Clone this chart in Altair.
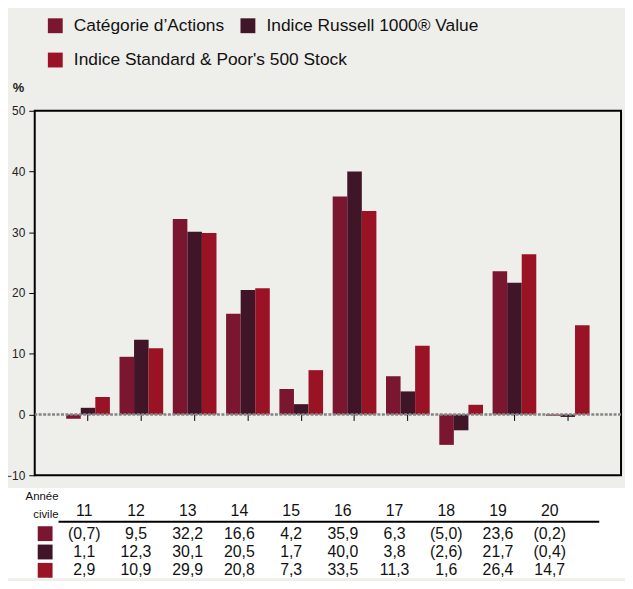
import altair as alt
import pandas as pd

years = ["11", "12", "13", "14", "15", "16", "17", "18", "19", "20"]
series = ["Catégorie d’Actions", "Indice Russell 1000® Value", "Indice Standard & Poor's 500 Stock"]
cat_vals = [-0.7, 9.5, 32.2, 16.6, 4.2, 35.9, 6.3, -5.0, 23.6, -0.2]
rus_vals = [1.1, 12.3, 30.1, 20.5, 1.7, 40.0, 3.8, -2.6, 21.7, -0.4]
sp_vals = [2.9, 10.9, 29.9, 20.8, 7.3, 33.5, 11.3, 1.6, 26.4, 14.7]
colors = ["#7b1631", "#3f1527", "#9a1325"]
y_ticks = [-10, 0, 10, 20, 30, 40, 50]


def fmt(v):
    s = f"{abs(v):.1f}".replace(".", ",")
    return f"({s})" if v < 0 else s


rows = []
for name, vals in zip(series, [cat_vals, rus_vals, sp_vals]):
    for yr, v in zip(years, vals):
        rows.append({"year": yr, "series": name, "value": v, "label": fmt(v)})
df = pd.DataFrame(rows)
one = alt.Data(values=[{}])

FONT = "Liberation Sans"

color_scale = alt.Scale(domain=series, range=colors)

legend_common = dict(orient="none", direction="horizontal", title=None,
                     symbolType="square", symbolSize=225, symbolStrokeWidth=0,
                     labelFont=FONT, labelFontSize=17.5, labelColor="#111",
                     labelOffset=10, columnPadding=14.5, padding=0,
                     labelLimit=0)

bars = alt.Chart(df).mark_bar().encode(
    x=alt.X(
        "year:O", sort=years,
        scale=alt.Scale(paddingInner=0, paddingOuter=0.5),
        axis=alt.Axis(orient="bottom", offset=-61.33, labels=False, domain=False,
                      ticks=True, tickSize=6, tickColor="black", tickWidth=1,
                      title=None, grid=False),
    ),
    xOffset=alt.XOffset("series:N", sort=series,
                        scale=alt.Scale(paddingInner=0, paddingOuter=0.33)),
    y=alt.Y(
        "value:Q",
        scale=alt.Scale(domain=[-10, 50], nice=False, zero=False),
        axis=alt.Axis(values=y_ticks, grid=False, domain=False, tickSize=6,
                      tickColor="black", tickWidth=1, labelFont=FONT,
                      labelFontSize=12, labelColor="#222", labelPadding=4,
                      title="%", titleAngle=0, titleX=-17, titleY=-23,
                      titleAlign="center", titleBaseline="middle",
                      titleFont=FONT, titleFontSize=13, titleFontWeight="bold",
                      titleColor="#222"),
    ),
    color=alt.Color(
        "series:N", sort=series, scale=color_scale,
        legend=alt.Legend(values=series[:2], legendX=12, legendY=-95,
                          **legend_common),
    ),
)

zero = alt.Chart(one).mark_rule(color="#858585", strokeWidth=2.5,
                                strokeDash=[3, 1.5]).encode(y=alt.datum(0))

main = alt.layer(bars, zero)

tx = alt.Scale(type="point", domain=years, range=[50, 520], padding=0)
ty = alt.Scale(type="point", domain=series, range=[432, 469], padding=0)

hdr = alt.Chart(pd.DataFrame({"year": years})).mark_text(
    font=FONT, fontSize=16, baseline="alphabetic", align="center", color="#111"
).encode(x=alt.X("year:O", sort=years, scale=tx, axis=None),
         y=alt.value(409), text="year:N")

vals = alt.Chart(df).mark_text(
    font=FONT, fontSize=16, baseline="alphabetic", align="center", color="#111"
).encode(x=alt.X("year:O", sort=years, scale=tx, axis=None),
         y=alt.Y("series:N", sort=series, scale=ty, axis=None),
         text="label:N")

squares = alt.Chart(pd.DataFrame({"series": series})).mark_square(
    size=225, opacity=1, yOffset=-5
).encode(x=alt.value(10.5),
         y=alt.Y("series:N", sort=series, scale=ty, axis=None),
         color=alt.Color("series:N", sort=series, scale=color_scale,
                         legend=alt.Legend(values=series[2:], legendX=12,
                                           legendY=-60, **legend_common)))

annee = alt.Chart(one).mark_text(text="Année", font=FONT, fontSize=11.5,
                                 align="right", baseline="alphabetic",
                                 color="#111").encode(x=alt.value(24), y=alt.value(393))
civile = alt.Chart(one).mark_text(text="civile", font=FONT, fontSize=11.5,
                                  align="right", baseline="alphabetic",
                                  color="#111").encode(x=alt.value(24), y=alt.value(411))
hline = alt.Chart(one).mark_rule(color="black", strokeWidth=2).encode(
    x=alt.value(24), x2=alt.value(570), y=alt.value(415))

table = alt.layer(hdr, vals, squares, annee, civile, hline)

white = alt.Chart(one).mark_rect(color="white").encode(
    x=alt.value(-27), x2=alt.value(596), y=alt.value(381), y2=alt.value(472))

chart = alt.layer(white, main, table).resolve_scale(
    x="independent", y="independent", color="independent"
).properties(
    width=592, height=368,
    padding={"left": 27, "top": 101, "right": 4, "bottom": 104},
    autosize=alt.AutoSizeParams(type="none"),
    background="#eeeeea",
).configure_view(stroke="black", strokeWidth=2)

chart.save("out.html", embed_options={"renderer": "svg", "actions": False})
